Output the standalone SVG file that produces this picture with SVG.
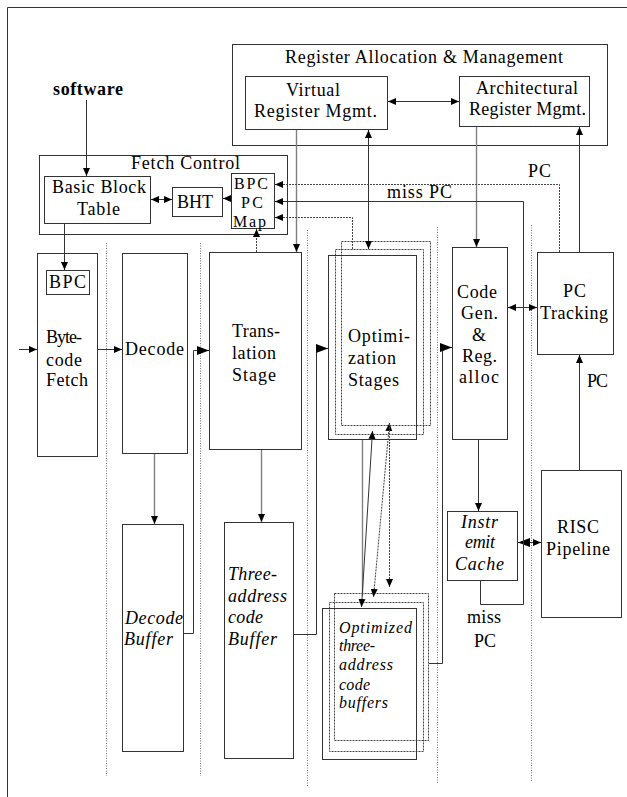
<svg xmlns="http://www.w3.org/2000/svg" width="627" height="797" viewBox="0 0 627 797" font-family="'Liberation Serif', 'DejaVu Serif', serif">
<style>
.box{fill:#fff;stroke:#333;stroke-width:1}
.nb{fill:none;stroke:#333;stroke-width:1}
.t{font-family:'Liberation Serif','DejaVu Serif',serif;font-size:18px;fill:#000}
.s{font-size:16px}
.i{font-style:italic}
.b{font-weight:bold}
.ln{fill:none;stroke:#333;stroke-width:1}
.g{fill:none;stroke:#808080;stroke-width:1.4}
.dot{fill:none;stroke:#444;stroke-width:1;stroke-dasharray:2 1}
.sep{fill:none;stroke:#777;stroke-width:1;stroke-dasharray:1 1.5}
</style>
<defs>
<marker id="a" viewBox="0 0 8 8" refX="8" refY="4" markerWidth="8" markerHeight="8" markerUnits="userSpaceOnUse" orient="auto-start-reverse"><path d="M0,0.5 L8,4 L0,7.5z" fill="#000"/></marker>
<marker id="bg" viewBox="0 0 12 10" refX="12" refY="5" markerWidth="12" markerHeight="10" markerUnits="userSpaceOnUse" orient="auto-start-reverse"><path d="M0,0.5 L12,5 L0,9.5z" fill="#000"/></marker>
</defs>
<rect width="627" height="797" fill="#fff"/>
<path d="M7.5,797 V7.5 H627" fill="none" stroke="#333" stroke-width="1"/>

<g id="separators">
<path class="sep" d="M106.5,243 V776 M200.5,243 V776 M307.5,230 V787 M437.5,227 V784 M531.5,225 V782"/>
</g>

<g id="reg-alloc">
<rect class="box" x="232.5" y="44.5" width="375" height="101"/>
<text class="t" x="285" y="63" textLength="278">Register Allocation &amp; Management</text>
</g>
<g id="virtual-reg">
<rect class="box" x="245.5" y="76.5" width="142" height="53"/>
<text class="t" x="286" y="96" textLength="54">Virtual</text>
<text class="t" x="254" y="117" textLength="123">Register Mgmt.</text>
</g>
<g id="arch-reg">
<rect class="box" x="459.5" y="76.5" width="130" height="50"/>
<text class="t" x="476" y="94" textLength="102">Architectural</text>
<text class="t" x="469" y="115" textLength="117">Register Mgmt.</text>
</g>
<g id="software">
<text class="t b" x="53" y="95" textLength="70">software</text>
</g>
<g id="fetch-control">
<rect class="box" x="39.5" y="155.5" width="248" height="79"/>
<text class="t" x="131" y="169" textLength="109">Fetch Control</text>
</g>
<g id="bbt">
<rect class="box" x="44.5" y="176.5" width="106" height="47"/>
<text class="t" x="52" y="193" textLength="94">Basic Block</text>
<text class="t" x="77" y="215" textLength="43">Table</text>
</g>
<g id="bht">
<rect class="box" x="172.5" y="187.5" width="50" height="29"/>
<text class="t" x="177" y="208" textLength="36">BHT</text>
</g>
<g id="bpc-map">
<rect class="box" x="231.5" y="173.5" width="43" height="55"/>
<text class="t s" x="234" y="189" textLength="34">BPC</text>
<text class="t s" x="241" y="208" textLength="22">PC</text>
<text class="t s" x="233" y="227" textLength="33">Map</text>
</g>
<g id="bytecode-fetch">
<rect class="box" x="37.5" y="253.5" width="60" height="203"/>
<rect class="box" x="46.5" y="270.5" width="43" height="24"/>
<text class="t" x="49" y="288" textLength="37">BPC</text>
<text class="t" x="46" y="343" textLength="36">Byte-</text>
<text class="t" x="46" y="366" textLength="36">code</text>
<text class="t" x="46" y="386" textLength="42">Fetch</text>
</g>
<g id="decode">
<rect class="box" x="122.5" y="253.5" width="65" height="200"/>
<text class="t" x="125" y="355" textLength="59">Decode</text>
</g>
<g id="decode-buffer">
<rect class="box" x="122.5" y="524.5" width="61" height="227"/>
<text class="t i" x="125" y="624" textLength="58">Decode</text>
<text class="t i" x="124" y="645" textLength="49">Buffer</text>
</g>
<g id="translation">
<rect class="box" x="209.5" y="252.5" width="92" height="197"/>
<text class="t" x="232" y="337" textLength="48">Trans-</text>
<text class="t" x="232" y="359" textLength="44">lation</text>
<text class="t" x="232" y="381" textLength="44">Stage</text>
</g>
<g id="three-addr-buffer">
<rect class="box" x="224.5" y="522.5" width="69" height="236"/>
<text class="t i" x="228" y="580" textLength="49">Three-</text>
<text class="t i" x="228" y="602" textLength="59">address</text>
<text class="t i" x="228" y="623" textLength="35">code</text>
<text class="t i" x="228" y="645" textLength="49">Buffer</text>
</g>
<g id="optimization">
<rect class="dot" x="341.5" y="241.5" width="89" height="184"/>
<rect class="dot" x="335.5" y="249.5" width="88" height="185"/>
<rect class="nb" x="328.5" y="255.5" width="88" height="184" stroke="#555"/>
<text class="t" x="348" y="342" textLength="62">Optimi-</text>
<text class="t" x="348" y="364" textLength="48">zation</text>
<text class="t" x="348" y="386" textLength="51">Stages</text>
</g>
<g id="opt-buffers">
<rect class="dot" x="334.5" y="593.5" width="94" height="147"/>
<rect class="dot" x="329.5" y="602.5" width="94" height="149"/>
<rect class="nb" x="322.5" y="608.5" width="94" height="151" stroke="#555"/>
<text class="t i s" x="339" y="633" textLength="73">Optimized</text>
<text class="t i s" x="339" y="651" textLength="36">three-</text>
<text class="t i s" x="339" y="670" textLength="54">address</text>
<text class="t i s" x="339" y="690" textLength="31">code</text>
<text class="t i s" x="339" y="708" textLength="49">buffers</text>
</g>
<g id="codegen">
<rect class="box" x="452.5" y="247.5" width="55" height="192"/>
<text class="t" x="457" y="298" textLength="40">Code</text>
<text class="t" x="461" y="319" textLength="37">Gen.</text>
<text class="t" x="472" y="341" textLength="15">&amp;</text>
<text class="t" x="462" y="362" textLength="35">Reg.</text>
<text class="t" x="459" y="383" textLength="40">alloc</text>
</g>
<g id="pc-tracking">
<rect class="box" x="537.5" y="252.5" width="76" height="102"/>
<text class="t" x="563" y="297" textLength="23">PC</text>
<text class="t" x="540" y="319" textLength="68">Tracking</text>
</g>
<g id="instr-cache">
<rect class="box" x="447.5" y="511.5" width="70" height="69"/>
<text class="t i" x="461" y="528" textLength="37">Instr</text>
<text class="t i" x="465" y="548" textLength="30">emit</text>
<text class="t i" x="455" y="570" textLength="49">Cache</text>
</g>
<g id="risc">
<rect class="box" x="541.5" y="470.5" width="80" height="147"/>
<text class="t" x="557" y="533" textLength="42">RISC</text>
<text class="t" x="546" y="555" textLength="64">Pipeline</text>
</g>

<g id="connectors">
<path class="ln" d="M86.5,100 V176" marker-end="url(#a)"/>
<path class="ln" d="M151,199.5 H172" marker-start="url(#a)" marker-end="url(#a)"/>
<path class="ln" d="M231,198.5 H223" marker-end="url(#a)"/>
<path class="ln" d="M64.5,224 V270" marker-end="url(#a)"/>
<path class="ln" d="M19,349.5 H37" marker-end="url(#a)"/>
<path class="ln" d="M98,349.5 H122" marker-end="url(#a)"/>
<path class="g" d="M154.5,454 V524" marker-end="url(#a)"/>
<path class="ln" d="M184,633.5 H193.5 V350.5 H209" marker-end="url(#bg)"/>
<path class="g" d="M261.5,450 V522" marker-end="url(#a)"/>
<path class="ln" d="M294,634.5 H316.5 V348.5 H328" marker-end="url(#bg)"/>
<path class="ln" d="M429,663.5 H442.5 V347.5 H452" marker-end="url(#bg)"/>
<path class="g" d="M296.5,130 V252" marker-end="url(#a)"/>
<path class="ln" d="M368.5,130 V249" marker-start="url(#a)" marker-end="url(#a)"/>
<path class="ln" d="M388,101.5 H459" marker-start="url(#a)" marker-end="url(#a)"/>
<path class="g" d="M476.5,127 V247" marker-end="url(#a)"/>
<path class="ln" d="M579.5,252 V127" marker-end="url(#a)"/>
<path class="ln" d="M508,307.5 H537" marker-start="url(#a)" marker-end="url(#a)"/>
<path class="ln" d="M579.5,470 V355" marker-end="url(#a)"/>
<text class="t" x="587" y="387" textLength="21">PC</text>
<path class="ln" d="M478.5,440 V511" marker-end="url(#a)"/>
<path class="ln" d="M518,542.5 H541" marker-start="url(#bg)" marker-end="url(#a)"/>
<path class="ln" d="M480.5,581 V604.5 H523.5 V201.5 H275" marker-end="url(#a)"/>
<text class="t" x="387" y="198" textLength="65">miss PC</text>
<text class="t" x="467" y="623" textLength="34">miss</text>
<text class="t" x="474" y="647" textLength="22">PC</text>
<path class="dot" d="M559.5,252 V184.5 H275" marker-end="url(#a)"/>
<text class="t" x="528" y="177" textLength="23">PC</text>
<path class="dot" d="M352.5,249 V217.5 H275" marker-end="url(#a)"/>
<path class="dot" d="M256.5,252 V229" marker-end="url(#a)"/>
<path class="g" d="M362.5,440 V596"/>
<path class="ln" d="M372.5,431 L361.5,607" marker-start="url(#a)" marker-end="url(#a)"/>
<path class="dot" d="M389.5,423 L373.5,597" marker-start="url(#a)" marker-end="url(#a)"/>
<path class="dot" d="M389.5,424 V587" marker-end="url(#a)"/>
</g>
</svg>
